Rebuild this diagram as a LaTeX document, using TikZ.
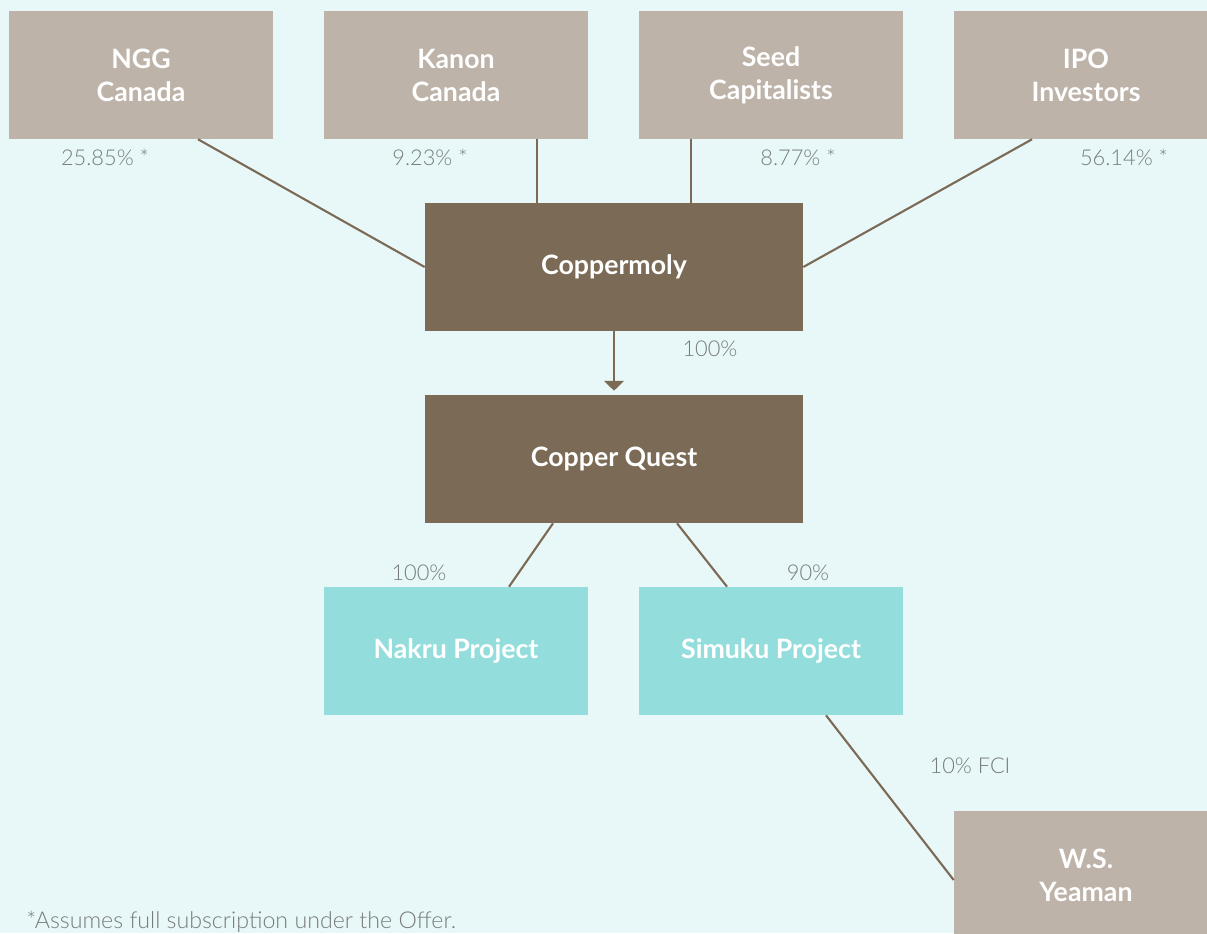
\documentclass[tikz,border=0pt]{standalone}
\usepackage{fontspec}
\setmainfont{Lato}
\newfontfamily\lightfont{Lato Light}
\usepackage{tikz}
\usetikzlibrary{positioning, arrows.meta, calc}
\usepackage{xcolor}
\definecolor{cq-bg}{HTML}{E8F8F8}
\definecolor{cq-taupe}{HTML}{BDB3A9}
\definecolor{cq-brown}{HTML}{7B6A55}
\definecolor{cq-teal}{HTML}{93DEDC}
\definecolor{cq-grey}{HTML}{777B7B}

\tikzset{
  holder/.style={fill=cq-taupe, text=white, minimum width=6.6cm, minimum height=3.2cm, align=center, font=\fontsize{19}{23.5}\selectfont\bfseries, inner sep=0pt},
  company/.style={holder, fill=cq-brown, minimum width=9.45cm},
  project/.style={holder, fill=cq-teal},
  share/.style={text=cq-grey, font=\lightfont\fontsize{15.5}{18}\selectfont, inner sep=0pt},
  link/.style={cq-brown, line width=1.5pt}
}

\begin{document}
\begin{tikzpicture}[x=0.025cm, y=-0.025cm]
	\clip (0,0) rectangle (1207,933);
	\fill[cq-bg] (0,0) rectangle (1207,933);

	\node[holder] at (141, 75) (ngg) {NGG\\Canada};
	\node[holder] at (456, 75) (kanon) {Kanon\\Canada};
	\node[holder] at (771, 75) (seed) {Seed\\Capitalists};
	\node[holder] at (1086, 75) (ipo) {IPO\\Investors};

	\node[company] at (614, 267) (cm) {Coppermoly};
	\node[company] at (614, 459) (cq) {Copper Quest};

	\node[project] at (456, 651) (nakru) {Nakru Project};
	\node[project] at (771, 651) (simuku) {Simuku Project};

	\node[holder] at (1086, 875) (ws) {W.S.\\Yeaman};

	% shareholders
	\draw[link] ($(ngg.south)+(57,0)$) -- (cm.west);
	\coordinate (k1) at ($(kanon.south)+(81,0)$);
	\draw[link] (k1) -- (k1 |- cm.north);
	\coordinate (s1) at ($(seed.south)+(-80,0)$);
	\draw[link] (s1) -- (s1 |- cm.north);
	\draw[link] ($(ipo.south)+(-54,0)$) -- (cm.east);

	\draw[link, -{Triangle[width=14pt, length=7pt]}] (cm.south) -- ($(cq.north)+(0,-4)$);

	% projects
	\draw[link] ($(cq.south)+(-61,0)$) -- ($(nakru.north)+(53,0)$);
	\draw[link] ($(cq.south)+(63,0)$) -- ($(simuku.north)+(-44,0)$);
	\draw[link] ($(simuku.south)+(55,0)$) -- ($(ws.west)+(0,5)$);

	\node[share] at (105, 157) (pngg) {25.85\% *};
	\node[share] at (430, 157) (pkanon) {9.23\% *};
	\node[share] at (798, 157) (pseed) {8.77\% *};
	\node[share] at (1124, 157) (pipo) {56.14\% *};
	\node[share] at (710, 349) (pcq) {100\%};
	\node[share] at (419, 573) (pnakru) {100\%};
	\node[share] at (808, 573) (psimuku) {90\%};
	\node[share] at (970, 766) (pws) {10\% FCI};

	\node[share, anchor=west, font=\lightfont\fontsize{16.5}{20}\selectfont] at (26, 922) (note) {*Assumes full subscription under the Offer.};
\end{tikzpicture}
\end{document}
